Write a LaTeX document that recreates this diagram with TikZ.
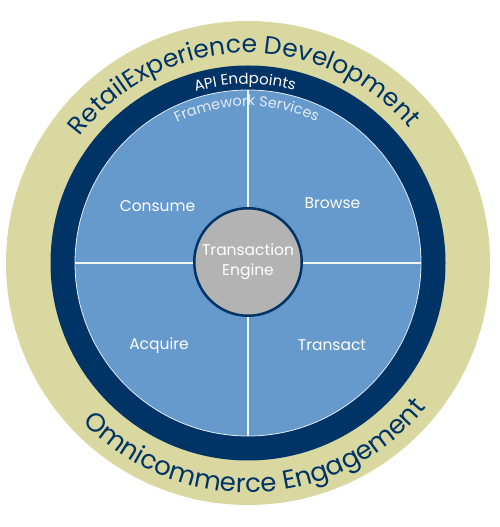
\documentclass[tikz,border=0pt]{standalone}
\usepackage{fontspec}
\setmainfont{Poppins}
\usetikzlibrary{decorations.text,calc}
\definecolor{khaki}{HTML}{D9D8A0}
\definecolor{navy}{HTML}{003366}
\definecolor{lblue}{HTML}{6699CC}
\definecolor{engray}{HTML}{B3B3B3}
\definecolor{fwtext}{HTML}{E3ECF6}
\begin{document}
\begin{tikzpicture}[x=1pt,y=1pt,
  ring/.style={circle, inner sep=0pt, minimum size=#1},
  quad/.style={text=white, font=\fontsize{15.5}{18}\selectfont, inner sep=0pt},
  divider/.style={draw=white!90!lblue, line width=1.5pt},
  arctext/.style n args={3}{decorate, decoration={text along path, text align=center, text color=#1, text={|\fontsize{#2}{#2}\selectfont|#3}}}]
\useasboundingbox (0,0) rectangle (500,527);
\coordinate (c) at (248,264);
\node[ring=484pt, fill=khaki] (outer) at (c) {};
\node[ring=395pt, fill=navy] (api) at (c) {};
\node[ring=346pt, fill=lblue, draw=white!80!lblue, line width=0.8pt] (fw) at (c) {};
\draw[divider] (fw.north) -- (fw.south);
\draw[divider] (fw.west) -- (fw.east);
\node[ring=107.5pt, fill=engray, draw=navy, line width=2.5pt, text=white, align=center, font=\fontsize{15.5}{20}\selectfont] (engine) at ($(c)+(0,1)$) {Transaction\\Engine};
\node[quad] (consume) at (157.5,321) {Consume};
\node[quad] (browse) at (332.5,324) {Browse};
\node[quad] (acquire) at (159,181.5) {Acquire};
\node[quad] (transact) at (332,182) {Transact};
\path[arctext={navy}{25}{RetailExperience Development}] ($(c)+(171.5:210)$) arc[start angle=171.5, end angle=11.5, radius=210];
\path[arctext={navy}{26}{Omnicommerce Engagement}] ($(c)+(192.4:229.5)$) arc[start angle=192.4, end angle=352.4, radius=229.5];
\path[arctext={white}{15}{API Endpoints}] ($(c)+(151:179)$) arc[start angle=151, end angle=31, radius=179];
\path[arctext={fwtext}{14.5}{Framework Services}] ($(c)+(150.5:157)$) arc[start angle=150.5, end angle=30.5, radius=157];
\end{tikzpicture}
\end{document}
